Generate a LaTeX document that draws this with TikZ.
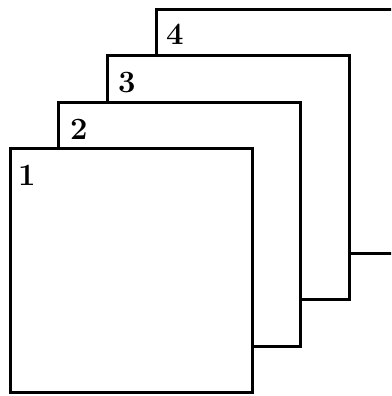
\documentclass[tikz,border=0pt]{standalone}
\begin{document}
\begin{tikzpicture}[x=1pt,y=1pt]
  \tikzset{sheet/.style={draw, fill=white, line width=3pt, minimum width=242pt, minimum height=244pt, inner sep=0pt, outer sep=0pt, anchor=south west},
           num/.style={inner sep=0pt, anchor=north west, font=\fontsize{31}{35}\selectfont\bfseries}}
  \useasboundingbox (0,0) rectangle (391,396);
  \clip (0,0) rectangle (391,396);
  \node[sheet] (s4) at (156,142) {};
  \node[sheet] (s3) at (107,96) {};
  \node[sheet] (s2) at (58,49) {};
  \node[sheet] (s1) at (10,3) {};
  \node[num] (n4) at ([xshift=10pt,yshift=-14pt]s4.north west) {4};
  \node[num] (n3) at ([xshift=11pt,yshift=-16pt]s3.north west) {3};
  \node[num] (n2) at ([xshift=12pt,yshift=-16pt]s2.north west) {2};
  \node[num] (n1) at ([xshift=8pt,yshift=-16pt]s1.north west) {1};
\end{tikzpicture}
\end{document}
